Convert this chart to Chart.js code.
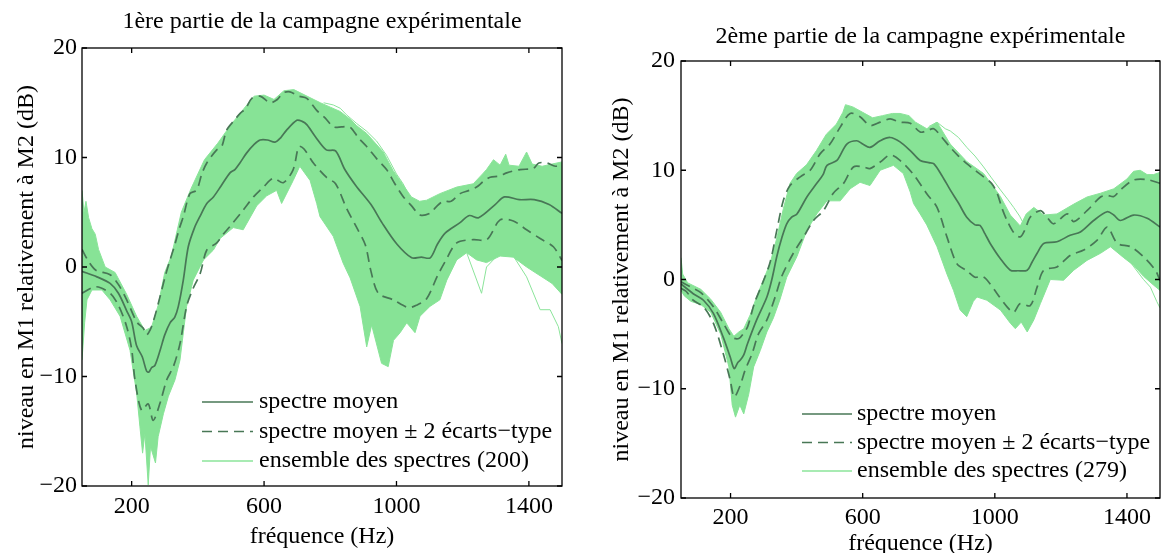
<!DOCTYPE html>
<html lang="fr">
<head>
<meta charset="UTF-8">
<title>Niveau en M1 relativement à M2</title>
<script src="https://cdn.jsdelivr.net/npm/chart.js"></script>
<style>
  body { margin: 0; background: #fff; }
  .panneau { position: absolute; top: 0; height: 553px; overflow: hidden; }
</style>
</head>
<body>
<div class="panneau" style="left:0;width:580px"><canvas id="partie1" width="580" height="553"></canvas></div>
<div class="panneau" style="left:580px;width:581px"><canvas id="partie2" width="581" height="553"></canvas></div>

<script>
// graduations
const freqTicks = [200, 600, 1000, 1400];
const niveauTicks = [-20, -10, 0, 10, 20];

// 1ere partie : [frequence Hz, niveau dB]
const moyen1 = [[50,-0.4],[95,-0.9],[135,-1.5],[160,-2.4],[185,-4.0],[200,-5.0],[215,-7.2],[232,-8.2],[245,-9.5],[252,-9.6],[260,-9.2],[270,-9.0],[286,-7.6],[300,-6.2],[316,-5.1],[330,-4.6],[341,-3.6],[356,-1.2],[371,1.85],[390,3.6],[406,4.6],[427,5.8],[447,6.4],[470,7.4],[497,8.6],[512,8.9],[527,9.5],[547,10.4],[570,11.2],[588,11.6],[610,11.6],[633,11.4],[650,11.8],[668,12.5],[699,13.4],[715,13.3],[729,13.0],[755,11.9],[788,10.7],[816,10.6],[844,8.9],[878,7.4],[923,5.7],[956,4.05],[1001,2.1],[1046,0.84],[1075,0.9],[1102,0.84],[1124,2.1],[1147,3.1],[1192,4.05],[1220,4.7],[1248,4.5],[1298,5.7],[1326,6.4],[1371,6.15],[1416,6.15],[1461,5.7],[1500,4.9]];
const plus2sigma1 = [[50,1.6],[70,0.5],[92,-0.3],[135,-0.7],[160,-1.6],[185,-3.0],[215,-5.0],[235,-5.6],[245,-6.2],[258,-5.6],[270,-4.5],[285,-2.8],[301,-0.9],[316,0.65],[330,2.0],[345,3.6],[356,4.6],[376,6.7],[396,7.0],[412,8.5],[427,9.5],[457,10.7],[472,11.0],[487,12.5],[510,13.4],[527,14.0],[545,14.5],[563,15.4],[588,15.6],[618,15.0],[640,15.3],[658,15.9],[678,16.0],[705,15.6],[729,15.4],[759,14.3],[785,13.6],[809,12.8],[835,12.8],[859,12.8],[885,11.8],[910,11.0],[940,9.9],[970,8.9],[995,7.6],[1021,6.4],[1045,5.6],[1071,4.75],[1101,4.9],[1120,5.5],[1141,6.0],[1165,6.0],[1192,6.7],[1220,7.0],[1242,7.3],[1262,7.8],[1283,8.2],[1310,8.3],[1333,8.6],[1373,8.9],[1413,9.0],[1430,9.5],[1454,9.5],[1480,9.2],[1500,9.4]];
const moins2sigma1 = [[50,-2.4],[92,-1.8],[135,-2.4],[160,-3.5],[185,-5.45],[200,-7.5],[210,-10.3],[230,-13.1],[250,-12.5],[265,-14.0],[286,-12.4],[306,-10.3],[326,-9.1],[346,-7.0],[366,-3.6],[385,-2.0],[407,-0.6],[427,1.55],[457,2.2],[477,3.0],[497,3.7],[537,5.2],[568,6.4],[598,7.3],[628,8.1],[658,7.7],[688,8.9],[705,11.0],[720,10.8],[749,9.5],[788,8.2],[816,7.6],[850,5.3],[878,3.7],[906,2.0],[923,-0.4],[945,-2.4],[990,-3.0],[1035,-3.7],[1060,-3.5],[1091,-2.9],[1124,-0.8],[1147,0.5],[1182,2.2],[1232,2.5],[1273,2.5],[1313,4.3],[1353,4.2],[1393,3.4],[1434,2.6],[1474,1.85],[1500,0.6]];
const enveloppeHaut1 = [[50,7.0],[56,5.0],[62,6.0],[70,4.5],[80,3.5],[90,3.0],[100,1.6],[120,0.0],[150,-0.5],[185,-2.5],[215,-4.5],[240,-5.8],[260,-5.5],[280,-3.5],[300,-0.5],[320,1.0],[350,5.0],[380,7.2],[420,9.8],[460,11.3],[500,13.0],[540,14.5],[570,15.6],[600,15.7],[630,15.3],[660,16.1],[690,16.2],[730,15.6],[770,15.0],[800,14.6],[830,14.2],[860,13.5],[880,12.9],[910,12.2],[960,10.5],[990,8.8],[1020,7.5],[1045,6.4],[1070,6.0],[1091,6.1],[1131,6.7],[1182,7.3],[1232,7.6],[1260,8.5],[1272,8.9],[1293,9.8],[1313,9.3],[1330,10.3],[1340,9.3],[1370,9.2],[1393,10.5],[1410,9.4],[1440,9.2],[1470,9.4],[1500,9.6]];
const enveloppeBas1 = [[50,-8.5],[58,-5.1],[65,-3.0],[80,-2.1],[110,-2.1],[135,-3.0],[165,-4.5],[195,-7.6],[215,-11.5],[225,-14.6],[233,-17.0],[240,-15.2],[250,-19.9],[257,-16.4],[272,-17.9],[280,-15.5],[296,-13.4],[311,-11.8],[331,-10.3],[346,-8.5],[366,-3.6],[386,-1.2],[417,0.65],[447,1.55],[467,2.6],[507,3.6],[537,3.4],[578,5.6],[608,6.5],[638,7.0],[653,5.8],[688,7.9],[708,9.2],[739,7.9],[759,5.8],[769,4.6],[809,2.8],[839,0.35],[860,-1.0],[890,-3.6],[910,-7.3],[925,-5.3],[955,-8.8],[975,-9.1],[991,-6.7],[1011,-6.0],[1031,-5.1],[1056,-6.0],[1071,-4.5],[1101,-3.6],[1131,-3.0],[1152,-1.2],[1182,0.65],[1212,1.3],[1242,0.65],[1272,0.4],[1313,1.0],[1353,0.9],[1393,0.0],[1434,-0.8],[1470,-1.5],[1500,-2.5]];
const isoleHaut1 = [[780,15.0],[809,14.8],[830,14.5],[849,13.9],[880,13.1],[910,12.4],[940,11.5],[970,10.2],[1000,8.5],[1020,7.6],[1040,6.4]];
const isoleBas1 = [[1212,1.3],[1257,-2.4],[1272,0.0],[1313,1.3],[1353,1.0],[1393,-0.9],[1434,-3.9],[1464,-3.9],[1489,-5.45],[1500,-7.0]];

// 2eme partie
const moyen2 = [[50,-0.4],[87,-1.3],[118,-1.9],[148,-3.1],[178,-5.3],[199,-7.1],[211,-8.15],[222,-7.6],[229,-7.4],[240,-6.9],[251,-5.9],[279,-3.7],[310,-1.6],[325,0.0],[340,2.1],[355,3.8],[370,5.1],[385,5.7],[401,6.0],[431,7.55],[461,8.8],[480,9.6],[492,10.45],[522,10.9],[552,12.4],[582,12.7],[600,12.4],[622,12.1],[653,12.7],[683,13.0],[713,12.6],[744,11.8],[774,10.9],[800,10.7],[815,10.6],[840,9.5],[865,8.2],[890,7.0],[915,5.7],[940,5.0],[955,4.95],[970,4.2],[986,3.3],[1017,1.9],[1047,0.85],[1070,0.8],[1098,0.85],[1113,1.6],[1128,2.4],[1148,3.3],[1188,3.45],[1228,4.05],[1259,4.35],[1299,5.4],[1340,6.2],[1360,5.9],[1380,5.4],[1420,5.9],[1461,5.6],[1500,4.8]];
const plus2sigma2 = [[50,-0.2],[80,-0.7],[110,-1.2],[148,-2.5],[178,-4.0],[205,-5.3],[225,-5.4],[240,-4.9],[252,-4.3],[272,-2.2],[296,-0.4],[320,1.6],[340,4.5],[360,7.25],[380,8.6],[411,9.4],[441,10.0],[471,11.5],[501,12.4],[532,13.95],[562,15.2],[592,14.9],[622,14.1],[653,14.4],[683,14.7],[713,14.4],[744,14.3],[774,13.5],[794,13.6],[815,13.8],[840,13.0],[865,12.1],[890,11.3],[915,10.6],[940,10.0],[966,9.4],[990,8.8],[1007,7.9],[1022,6.5],[1037,5.4],[1057,4.3],[1077,3.9],[1092,4.6],[1107,5.7],[1138,6.3],[1158,5.7],[1178,5.1],[1219,6.0],[1239,5.3],[1279,6.3],[1320,7.55],[1340,7.7],[1360,7.6],[1380,8.2],[1420,9.1],[1461,9.15],[1500,8.8]];
const moins2sigma2 = [[50,-0.8],[66,-1.1],[87,-1.9],[118,-2.5],[148,-4.0],[178,-6.8],[199,-9.2],[211,-10.75],[229,-9.7],[244,-8.3],[265,-6.8],[285,-4.95],[310,-3.7],[335,-1.6],[355,0.3],[390,2.4],[421,3.9],[451,5.4],[481,6.3],[511,7.9],[542,8.8],[572,10.3],[602,10.3],[622,10.15],[653,10.75],[683,11.4],[713,10.9],[754,9.6],[794,7.85],[825,6.6],[855,3.9],[885,1.45],[915,0.8],[940,0.2],[960,0.3],[975,0.0],[1007,-1.3],[1037,-2.5],[1057,-3.0],[1077,-2.2],[1107,-2.4],[1128,-0.7],[1148,0.85],[1188,1.15],[1228,2.2],[1269,2.7],[1310,3.6],[1340,4.8],[1371,3.3],[1411,3.0],[1451,2.05],[1486,0.85],[1500,-0.1]];
const enveloppeHaut2 = [[50,2.0],[55,0.5],[70,-0.3],[110,-0.9],[140,-1.8],[170,-3.0],[195,-4.5],[210,-5.2],[225,-4.8],[240,-4.5],[260,-3.2],[280,-1.5],[300,0.0],[320,1.5],[340,3.8],[360,6.5],[380,8.8],[400,9.7],[430,10.5],[460,11.8],[490,13.3],[520,14.2],[540,15.3],[548,16.0],[570,15.8],[600,15.3],[630,14.8],[660,15.0],[690,15.2],[713,15.2],[740,15.0],[760,14.4],[794,13.8],[825,14.4],[865,12.4],[915,10.8],[966,9.7],[1017,7.6],[1047,5.9],[1077,4.9],[1095,6.0],[1118,6.6],[1148,5.9],[1188,6.0],[1239,6.9],[1279,7.55],[1320,7.9],[1360,8.3],[1400,9.2],[1420,9.9],[1440,10.0],[1461,9.6],[1480,9.6],[1500,9.8]];
const enveloppeBas2 = [[50,-1.0],[60,-1.5],[80,-2.0],[110,-2.3],[140,-3.0],[170,-5.0],[195,-8.0],[205,-11.5],[215,-12.6],[228,-11.5],[240,-12.3],[255,-10.5],[270,-8.0],[290,-6.5],[310,-4.8],[330,-3.5],[350,-1.8],[370,0.2],[401,2.1],[431,4.5],[461,6.0],[492,7.2],[532,7.2],[562,8.3],[592,8.9],[622,8.6],[653,10.0],[693,10.45],[723,9.7],[744,8.0],[754,6.95],[774,6.0],[794,5.0],[825,3.0],[855,0.5],[875,-1.0],[895,-2.8],[915,-3.4],[935,-2.0],[946,-1.6],[976,-1.9],[1017,-2.8],[1047,-4.0],[1062,-4.5],[1080,-3.9],[1098,-4.8],[1118,-3.7],[1138,-2.2],[1168,0.0],[1208,-0.07],[1239,0.85],[1279,1.75],[1320,2.4],[1350,3.0],[1390,2.0],[1420,1.3],[1450,0.3],[1480,-0.5],[1500,-1.0]];
const isoleHaut2 = [[800,14.0],[825,14.4],[850,13.8],[865,13.6],[890,13.0],[915,12.1],[940,11.3],[966,10.3],[990,9.3],[1017,8.2],[1040,7.3],[1057,6.6],[1075,5.8],[1087,5.1],[1095,5.6]];
const isoleBas2 = [[1350,3.0],[1400,2.0],[1421,1.15],[1450,0.0],[1471,-0.7],[1490,-2.0],[1500,-2.6]];

const legende1 = ['spectre moyen', 'spectre moyen \u00b1 2 \u00e9carts\u2212type', 'ensemble des spectres (200)'];
const legende2 = ['spectre moyen', 'spectre moyen \u00b1 2 \u00e9carts\u2212type', 'ensemble des spectres (279)'];

const POLICE = '"Liberation Serif", "Times New Roman", serif';
const TAILLE = 24;
const vertFonce = '#487756';
const vertClair = '#8be49a';
const vertFond = '#87e396';

Chart.defaults.font.family = POLICE;
Chart.defaults.color = '#000';

function pts(a) {
  return a.map(p => ({ x: p[0], y: p[1] }));
}

// cadre avec graduations vers l'interieur (comme matlab)
const cadre = {
  id: 'cadre',
  afterDatasetsDraw(chart) {
    const { ctx, chartArea: a, scales: { x, y } } = chart;
    ctx.save();
    ctx.strokeStyle = '#000';
    ctx.lineWidth = 1.3;
    ctx.strokeRect(a.left, a.top, a.right - a.left, a.bottom - a.top);
    ctx.beginPath();
    freqTicks.forEach(v => {
      const px = x.getPixelForValue(v);
      ctx.moveTo(px, a.bottom); ctx.lineTo(px, a.bottom - 5);
      ctx.moveTo(px, a.top); ctx.lineTo(px, a.top + 5);
    });
    niveauTicks.forEach(v => {
      const py = y.getPixelForValue(v);
      ctx.moveTo(a.left, py); ctx.lineTo(a.left + 5, py);
      ctx.moveTo(a.right, py); ctx.lineTo(a.right - 5, py);
    });
    ctx.stroke();
    ctx.restore();
  }
};

// legende dessinee dans la zone du graphe
const legendeInterne = {
  id: 'legendeInterne',
  afterDraw(chart, args, o) {
    const ctx = chart.ctx;
    ctx.save();
    ctx.font = TAILLE + 'px ' + POLICE;
    ctx.textBaseline = 'middle';
    ctx.fillStyle = '#000';
    o.items.forEach((it, i) => {
      const ds = chart.data.datasets[it.ds];
      const yy = o.y + i * o.dy;
      ctx.strokeStyle = ds.borderColor;
      ctx.lineWidth = it.ds === 3 ? 1.5 : ds.borderWidth;
      ctx.setLineDash(ds.borderDash || []);
      ctx.beginPath();
      ctx.moveTo(o.x0, yy);
      ctx.lineTo(o.x1, yy);
      ctx.stroke();
      ctx.setLineDash([]);
      ctx.fillText(it.text, o.tx, yy);
    });
    ctx.restore();
  }
};

function trace(id, p) {
  const clair = (d, extra) => Object.assign({
    data: pts(d), borderColor: vertClair, borderWidth: 1, pointRadius: 0, tension: 0, fill: false
  }, extra || {});
  const fonce = (d, dash) => ({
    data: pts(d), borderColor: vertFonce, borderWidth: 1.7, borderDash: dash, pointRadius: 0, tension: 0.3, fill: false
  });

  return new Chart(document.getElementById(id), {
    type: 'line',
    data: {
      datasets: [
        fonce(p.moyen, []),
        fonce(p.plus, [10, 6]),
        fonce(p.moins, [10, 6]),
        clair(p.haut, { fill: '+1', backgroundColor: vertFond }),
        clair(p.bas),
        clair(p.isoleHaut),
        clair(p.isoleBas)
      ]
    },
    options: {
      responsive: false,
      animation: false,
      devicePixelRatio: 1,
      layout: { padding: { left: 0, right: p.droite, top: 0, bottom: 0 } },
      plugins: {
        legend: { display: false },
        tooltip: { enabled: false },
        title: {
          display: true,
          fullSize: false,
          text: p.titre,
          font: { size: TAILLE, weight: 'normal' },
          color: '#000',
          padding: p.titrePad
        },
        legendeInterne: {
          x0: p.leg.x0, x1: p.leg.x1, tx: p.leg.tx, y: p.leg.y, dy: p.leg.dy,
          items: [
            { ds: 0, text: p.legende[0] },
            { ds: 1, text: p.legende[1] },
            { ds: 3, text: p.legende[2] }
          ]
        }
      },
      scales: {
        x: {
          type: 'linear',
          min: 50,
          max: 1500,
          afterBuildTicks: s => { s.ticks = freqTicks.map(v => ({ value: v })); },
          afterFit: s => { s.height = p.hautX; },
          grid: { display: false, drawTicks: false },
          border: { display: false },
          ticks: {
            font: { size: TAILLE }, color: '#000', padding: p.padTickX, maxRotation: 0, autoSkip: false,
            callback: v => String(v)
          },
          title: { display: true, text: 'fréquence (Hz)', font: { size: TAILLE }, color: '#000', padding: { top: 0, bottom: p.padTitreX } }
        },
        y: {
          min: -20,
          max: 20,
          afterBuildTicks: s => { s.ticks = niveauTicks.map(v => ({ value: v })); },
          afterFit: s => { s.width = p.largeY; },
          grid: { display: false, drawTicks: false },
          border: { display: false },
          ticks: {
            font: { size: TAILLE }, color: '#000', padding: p.padTickY,
            callback: v => String(v).replace('-', '\u2212')
          },
          title: { display: true, text: 'niveau en M1 relativement à M2 (dB)', font: { size: TAILLE }, color: '#000', padding: { top: p.padTitreY, bottom: 0 } }
        }
      }
    },
    plugins: [cadre, legendeInterne]
  });
}

trace('partie1', {
  titre: '1ère partie de la campagne expérimentale',
  moyen: moyen1, plus: plus2sigma1, moins: moins2sigma1,
  haut: enveloppeHaut1, bas: enveloppeBas1, isoleHaut: isoleHaut1, isoleBas: isoleBas1,
  legende: legende1,
  droite: 18, titrePad: { top: 7.6, bottom: 11.6 },
  hautX: 67, largeY: 82, padTickX: 6.6, padTitreX: 1.6, padTickY: 5, padTitreY: 12.6,
  leg: { x0: 202, x1: 253, tx: 259, y: 402, dy: 29.5 }
});

trace('partie2', {
  titre: '2ème partie de la campagne expérimentale',
  moyen: moyen2, plus: plus2sigma2, moins: moins2sigma2,
  haut: enveloppeHaut2, bas: enveloppeBas2, isoleHaut: isoleHaut2, isoleBas: isoleBas2,
  legende: legende2,
  droite: 1, titrePad: { top: 22.6, bottom: 9.6 },
  hautX: 55, largeY: 101, padTickX: 5.6, padTitreX: -5.4, padTickY: 6, padTitreY: 27.6,
  leg: { x0: 222, x1: 272, tx: 277, y: 414, dy: 28.5 }
});
</script>
</body>
</html>
